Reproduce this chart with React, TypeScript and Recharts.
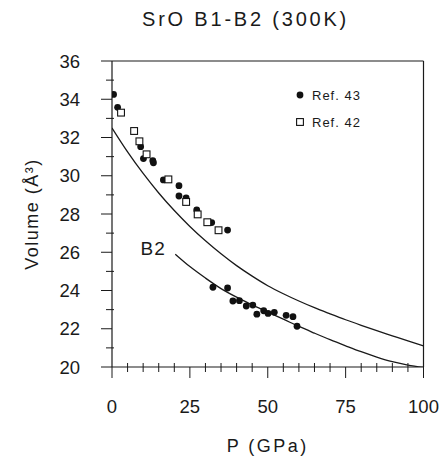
import { ComposedChart, Line, Scatter, XAxis, YAxis, ReferenceLine, ReferenceDot, Label } from 'recharts';

// theory curves
const b1CurveP = [0, 5, 10, 15, 20, 25, 30, 35, 40, 45, 50, 55, 60, 65, 70, 75, 80, 85, 90, 95, 100];
const b1CurveV = [32.5, 31.25, 30.12, 29.1, 28.18, 27.35, 26.6, 25.92, 25.3, 24.75, 24.25, 23.83, 23.45, 23.1, 22.78, 22.47, 22.18, 21.9, 21.63, 21.36, 21.1];
const b2CurveP = [20.3, 25, 30, 35, 40, 45, 50, 55, 60, 65, 70, 75, 80, 85, 90, 95, 100];
const b2CurveV = [25.9, 25.25, 24.65, 24.1, 23.65, 23.25, 22.87, 22.5, 22.12, 21.77, 21.43, 21.11, 20.8, 20.52, 20.28, 20.1, 19.98];

// Ref. 43 (filled circles)
const ref43P = [0.5, 1.8, 9.2, 10.1, 13.1, 13.3, 16.5, 21.5, 21.5, 23.8, 27.2, 32.0, 37.1,
  32.4, 37.1, 38.8, 40.9, 43.1, 45.2, 46.5, 48.7, 50.1, 52.1, 55.9, 58.1, 59.4];
const ref43V = [34.25, 33.58, 31.52, 30.9, 30.79, 30.68, 29.78, 29.48, 28.94, 28.84, 28.21, 27.55, 27.16,
  24.17, 24.13, 23.45, 23.47, 23.19, 23.24, 22.76, 22.94, 22.8, 22.86, 22.7, 22.63, 22.13];

// Ref. 42 (open squares)
const ref42P = [2.9, 7.1, 8.8, 11.1, 18.1, 23.8, 27.5, 30.6, 34.2];
const ref42V = [33.3, 32.34, 31.8, 31.12, 29.81, 28.63, 27.98, 27.57, 27.15];

const xTicks = [0, 5, 10, 15, 20, 25, 30, 35, 40, 45, 50, 55, 60, 65, 70, 75, 80, 85, 90, 95, 100];
const yTicks = [20, 21, 22, 23, 24, 25, 26, 27, 28, 29, 30, 31, 32, 33, 34, 35, 36];

const zip = (p: number[], v: number[]) => p.map((x, i) => ({ p: x, v: v[i] }));
const b1Curve = zip(b1CurveP, b1CurveV);
const b2Curve = zip(b2CurveP, b2CurveV);
const ref43 = zip(ref43P, ref43V);
const ref42 = zip(ref42P, ref42V);

const FONT = '"Liberation Sans", Arial, sans-serif';
const INK = '#1a1a1a';

const XTick = (props: any) => {
  const { x, y, payload } = props;
  const major = payload.value % 25 === 0;
  return (
    <g>
      <line x1={x} x2={x} y1={major ? y : y - 4} y2={major ? y + 11 : y + 5} stroke={INK} strokeWidth={1} />
      {major && (
        <text x={x} y={y + 39} textAnchor="middle" dominantBaseline="central" fontSize={18.5} fontFamily={FONT} fill={INK}>
          {payload.value}
        </text>
      )}
    </g>
  );
};

const YTick = (props: any) => {
  const { x, y, payload } = props;
  const major = payload.value % 2 === 0;
  return (
    <g>
      <line x1={major ? x - 11 : x - 6} x2={major ? x : x + 2} y1={y} y2={y} stroke={INK} strokeWidth={1} />
      {major && (
        <text x={x - 32} y={y} textAnchor="end" dominantBaseline="central" fontSize={18.5} fontFamily={FONT} fill={INK}>
          {payload.value}
        </text>
      )}
    </g>
  );
};

const Dot = (props: any) => <circle cx={props.cx} cy={props.cy} r={3.4} fill="#111" />;
const Square = (props: any) => (
  <rect x={props.cx - 3.4} y={props.cy - 3.4} width={6.8} height={6.8} fill="#fff" stroke="#111" strokeWidth={1.1} />
);

const LegendBox = () => (
  <div style={{ position: 'absolute', left: 294, top: 85, fontFamily: FONT, fontSize: 13, letterSpacing: 1, color: INK }}>
    <div style={{ display: 'flex', alignItems: 'center', height: 20 }}>
      <svg width={12} height={12}><circle cx={6} cy={6} r={3.4} fill="#111" /></svg>
      <span style={{ marginLeft: 6 }}>Ref. 43</span>
    </div>
    <div style={{ display: 'flex', alignItems: 'center', height: 20, marginTop: 7 }}>
      <svg width={12} height={12}><rect x={2.6} y={2.6} width={6.8} height={6.8} fill="#fff" stroke="#111" strokeWidth={1.1} /></svg>
      <span style={{ marginLeft: 6 }}>Ref. 42</span>
    </div>
  </div>
);

export default function App() {
  return (
    <div style={{ position: 'absolute', left: 0, top: 0, width: 443, height: 457, background: '#fff' }}>
      <div style={{ position: 'absolute', left: 142, top: 9, fontFamily: FONT, fontSize: 20, lineHeight: '20px', letterSpacing: 2.8, color: INK, whiteSpace: 'nowrap' }}>
        SrO B1-B2 (300K)
      </div>
      <ComposedChart width={443} height={457} margin={{ top: 61, right: 19.5, left: 0, bottom: 0 }}>
        <XAxis
          type="number"
          dataKey="p"
          domain={[0, 100]}
          ticks={xTicks}
          interval={0}
          allowDataOverflow
          height={90}
          tickSize={0}
          tickMargin={0}
          tickLine={false}
          axisLine={{ stroke: INK, strokeWidth: 1.2 }}
          tick={XTick}
        >
          <Label value="P (GPa)" position="insideBottom" offset={5} fontSize={18} fontFamily={FONT} fill={INK} letterSpacing={2.5} />
        </XAxis>
        <YAxis
          type="number"
          dataKey="v"
          domain={[20, 36]}
          ticks={yTicks}
          interval={0}
          allowDataOverflow
          width={112}
          tickSize={0}
          tickMargin={0}
          tickLine={false}
          axisLine={{ stroke: INK, strokeWidth: 1.2 }}
          tick={YTick}
        >
          <Label
            content={(p: any) => {
              const vb = p.viewBox;
              const cx = vb.x + 32;
              const cy = vb.y + vb.height / 2;
              return (
                <text x={cx} y={cy} transform={`rotate(-90 ${cx} ${cy})`} textAnchor="middle" dominantBaseline="central" fontSize={18} fontFamily={FONT} fill={INK} letterSpacing={1.5}>
                  Volume (Å³)
                </text>
              );
            }}
          />
        </YAxis>
        <ReferenceLine y={36} stroke={INK} strokeWidth={1.2} />
        <ReferenceLine x={100} stroke={INK} strokeWidth={1.2} />
        <Line data={b1Curve} dataKey="v" type="monotone" stroke={INK} strokeWidth={1.3} dot={false} isAnimationActive={false} />
        <Line data={b2Curve} dataKey="v" type="monotone" stroke={INK} strokeWidth={1.3} dot={false} isAnimationActive={false} />
        <Scatter data={ref43} dataKey="v" shape={Dot} isAnimationActive={false} />
        <Scatter data={ref42} dataKey="v" shape={Square} isAnimationActive={false} />
        <ReferenceDot x={13.2} y={26.2} r={0} fill="none" stroke="none">
          <Label value="B2" position="center" fontSize={19} fontFamily={FONT} fill={INK} letterSpacing={1} />
        </ReferenceDot>
      </ComposedChart>
      <LegendBox />
    </div>
  );
}
